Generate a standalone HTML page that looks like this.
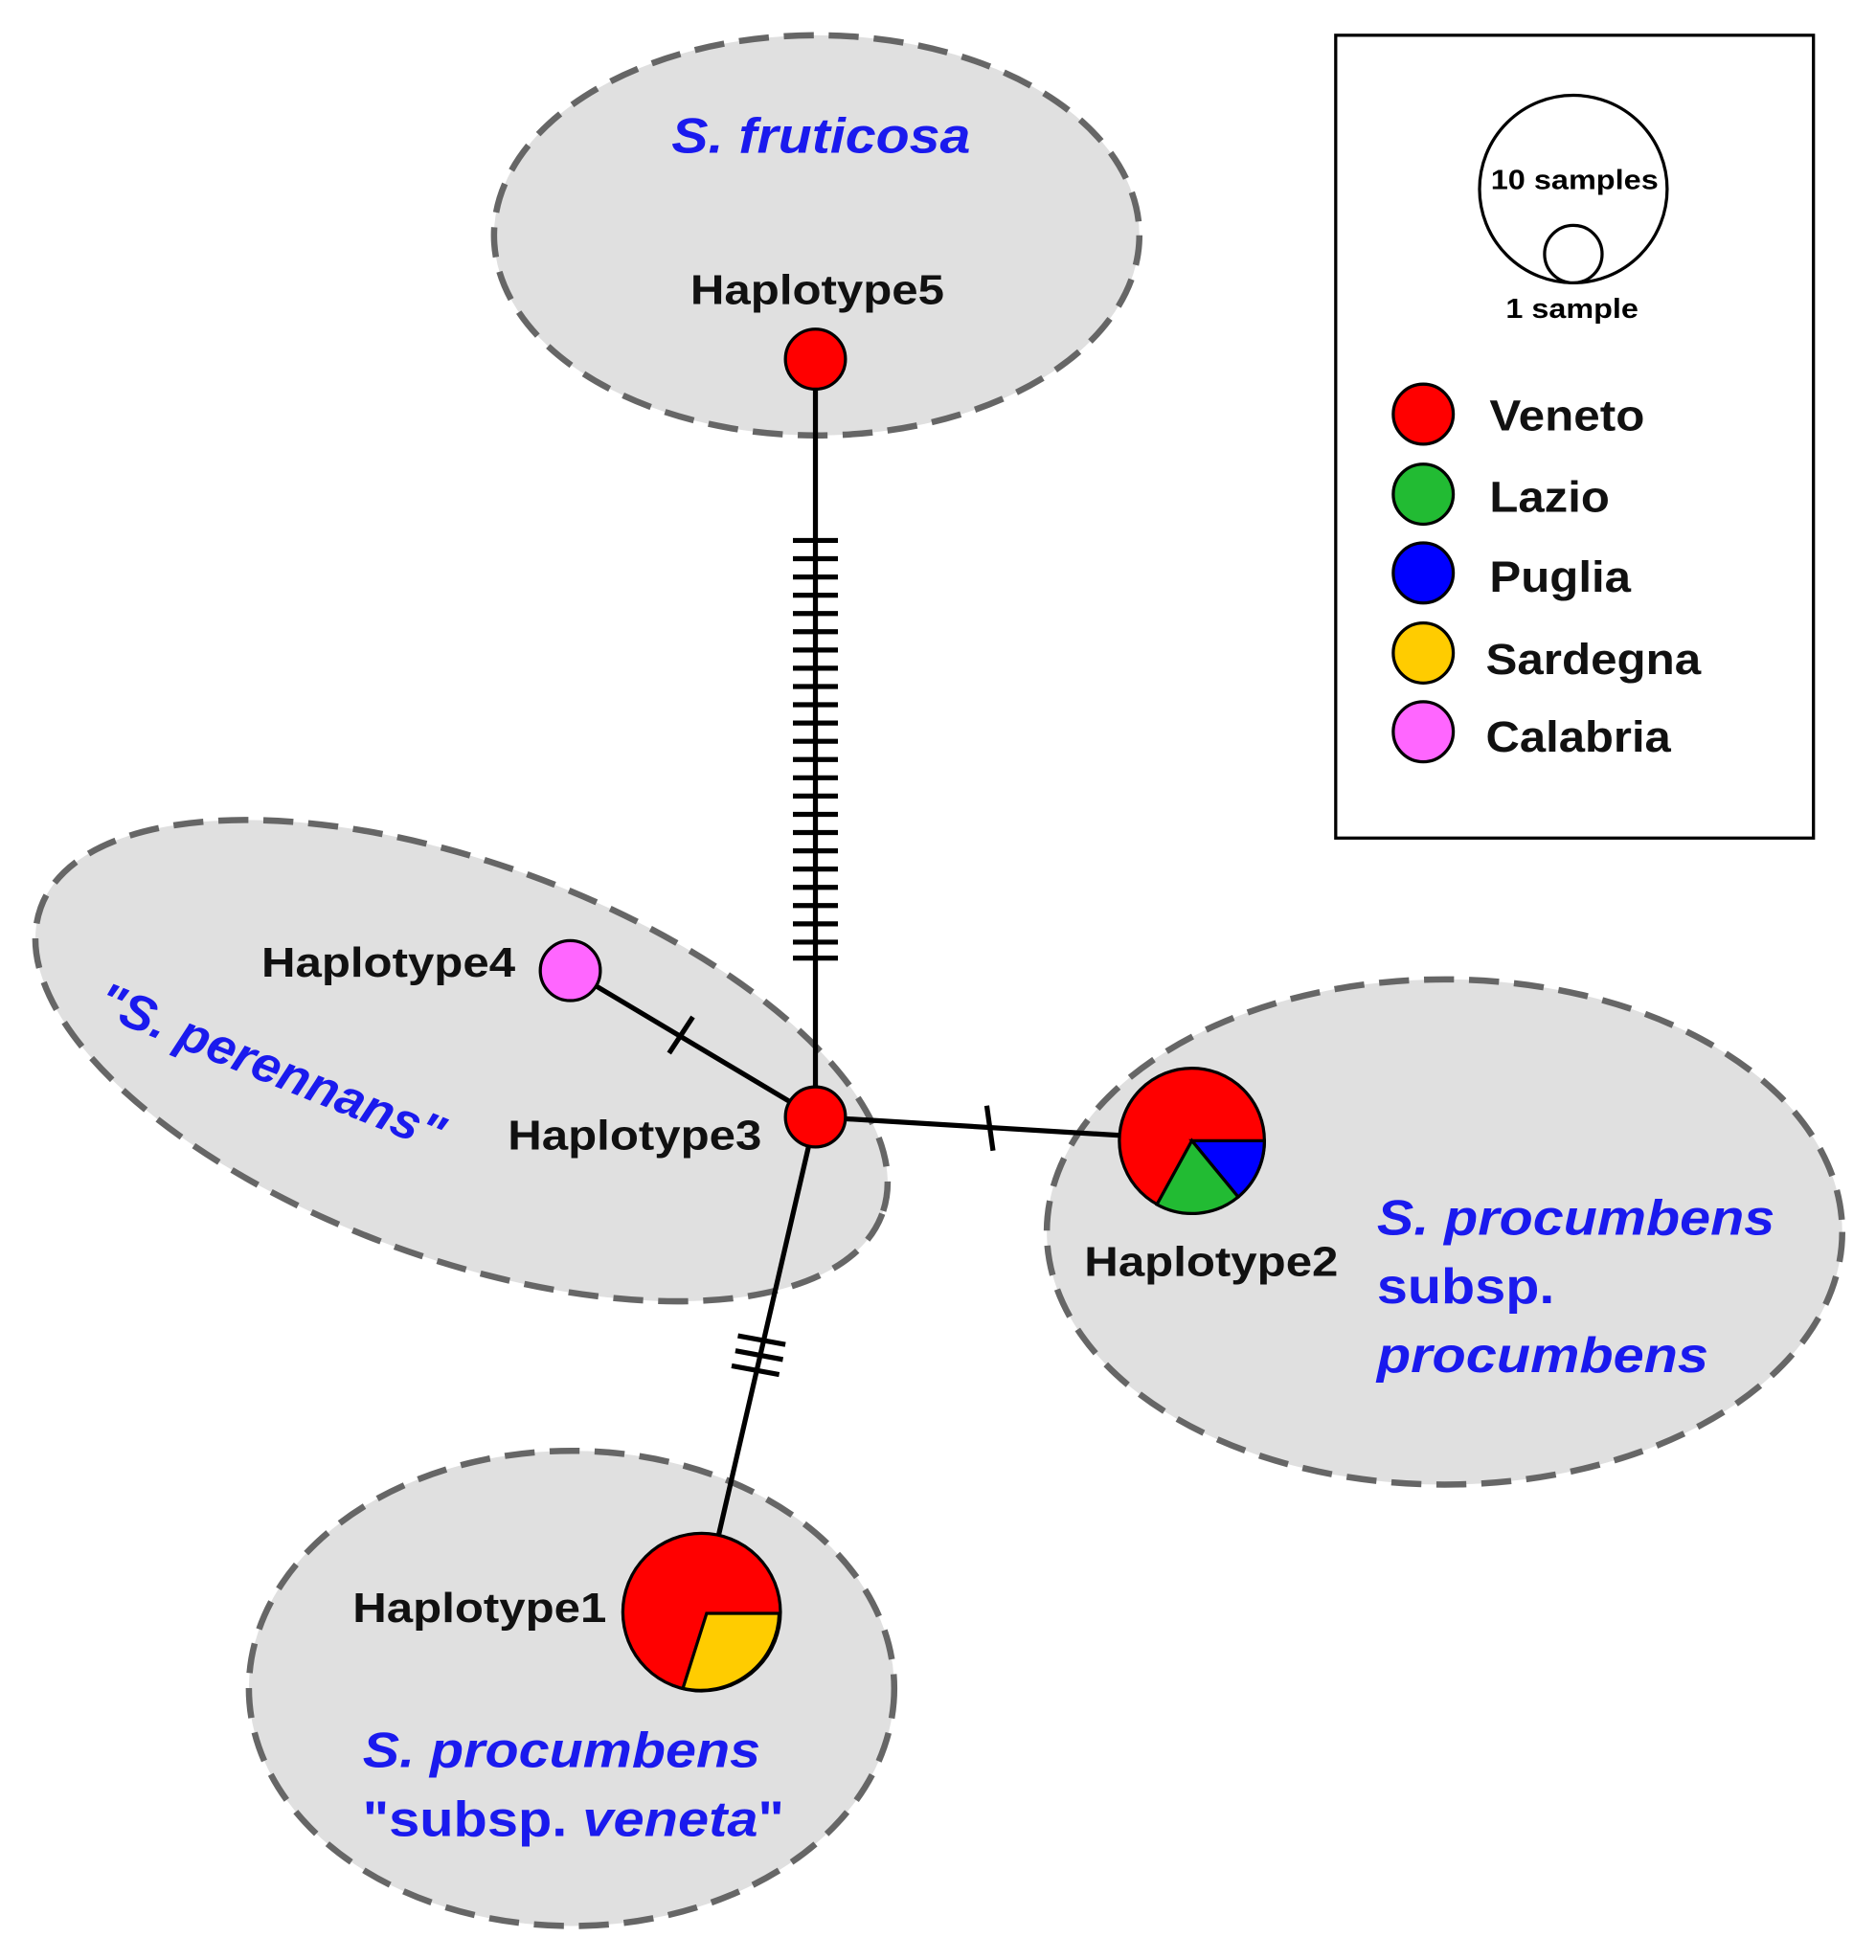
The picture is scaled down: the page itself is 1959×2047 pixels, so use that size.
<!DOCTYPE html>
<html><head><meta charset="utf-8">
<style>
html,body{margin:0;padding:0;background:#fff;}
svg{display:block;}
text{font-family:"Liberation Sans",Arial,sans-serif;font-weight:bold;}
</style></head>
<body>
<svg width="1959" height="2047" viewBox="0 0 1500 1567" xmlns="http://www.w3.org/2000/svg">
<g fill="#e0e0e0" stroke="#666" stroke-width="5" stroke-dasharray="24,12">
<ellipse cx="653" cy="188" rx="258" ry="160"/>
<ellipse cx="369" cy="848" rx="358" ry="158" transform="rotate(20 369 848)"/>
<ellipse cx="1155" cy="985" rx="318" ry="202"/>
<ellipse cx="457" cy="1350" rx="258" ry="190"/>
</g>
<g stroke="#000" stroke-width="4" fill="none">
<line x1="652" y1="287" x2="652" y2="893"/>
<line x1="456" y1="776" x2="652" y2="893"/>
<line x1="652" y1="893" x2="900" y2="908"/>
<line x1="652" y1="893" x2="574" y2="1230"/>
<line x1="535" y1="842" x2="554" y2="813"/>
<line x1="789" y1="884" x2="794" y2="920"/>
<line x1="590" y1="1068" x2="628" y2="1075"/>
<line x1="588" y1="1080" x2="626" y2="1087"/>
<line x1="585" y1="1092" x2="623" y2="1099"/>
</g>
<g stroke="#000" stroke-width="4">
<line x1="634" y1="432" x2="670" y2="432"/><line x1="634" y1="446.6" x2="670" y2="446.6"/><line x1="634" y1="461.2" x2="670" y2="461.2"/><line x1="634" y1="475.8" x2="670" y2="475.8"/><line x1="634" y1="490.4" x2="670" y2="490.4"/><line x1="634" y1="505" x2="670" y2="505"/><line x1="634" y1="519.6" x2="670" y2="519.6"/><line x1="634" y1="534.2" x2="670" y2="534.2"/><line x1="634" y1="548.8" x2="670" y2="548.8"/><line x1="634" y1="563.4" x2="670" y2="563.4"/><line x1="634" y1="578" x2="670" y2="578"/><line x1="634" y1="592.6" x2="670" y2="592.6"/><line x1="634" y1="607.2" x2="670" y2="607.2"/><line x1="634" y1="621.8" x2="670" y2="621.8"/><line x1="634" y1="636.4" x2="670" y2="636.4"/><line x1="634" y1="651" x2="670" y2="651"/><line x1="634" y1="665.6" x2="670" y2="665.6"/><line x1="634" y1="680.2" x2="670" y2="680.2"/><line x1="634" y1="694.8" x2="670" y2="694.8"/><line x1="634" y1="709.4" x2="670" y2="709.4"/><line x1="634" y1="724" x2="670" y2="724"/><line x1="634" y1="738.6" x2="670" y2="738.6"/><line x1="634" y1="753.2" x2="670" y2="753.2"/><line x1="634" y1="766" x2="670" y2="766"/>
</g>
<g stroke="#000" stroke-width="2.5">
<circle cx="652" cy="287" r="24" fill="#ff0000"/>
<circle cx="456" cy="776" r="24" fill="#ff66ff"/>
<circle cx="652" cy="893" r="24" fill="#ff0000"/>
<circle cx="953" cy="912" r="58" fill="#ff0000"/>
<path d="M953,912 L1011,912 A58,58 0 0 1 990,957 Z" fill="#0000ff"/>
<path d="M953,912 L990,957 A58,58 0 0 1 925,963 Z" fill="#22bb33"/>
<circle cx="561" cy="1289" r="63" fill="#ff0000"/>
<path d="M565,1290 L623,1290 A63,63 0 0 1 546,1350 Z" fill="#ffcc00"/>
</g>
<g font-size="33" fill="#111">
<text x="552" y="243" textLength="203" lengthAdjust="spacingAndGlyphs">Haplotype5</text>
<text x="209" y="781" textLength="203" lengthAdjust="spacingAndGlyphs">Haplotype4</text>
<text x="406" y="919" textLength="203" lengthAdjust="spacingAndGlyphs">Haplotype3</text>
<text x="867" y="1020" textLength="203" lengthAdjust="spacingAndGlyphs">Haplotype2</text>
<text x="282" y="1297" textLength="203" lengthAdjust="spacingAndGlyphs">Haplotype1</text>
</g>
<g font-size="40" fill="#1a1aee">
<text x="537" y="122" font-style="italic" textLength="239" lengthAdjust="spacingAndGlyphs">S. fruticosa</text>
<text x="75" y="810" font-style="italic" transform="rotate(22 75 810)" textLength="295" lengthAdjust="spacingAndGlyphs">"S. perennans"</text>
<text x="1101" y="987" font-style="italic" textLength="318" lengthAdjust="spacingAndGlyphs">S. procumbens</text>
<text x="1101" y="1042" textLength="142" lengthAdjust="spacingAndGlyphs">subsp.</text>
<text x="1101" y="1097" font-style="italic" textLength="265" lengthAdjust="spacingAndGlyphs">procumbens</text>
<text x="290" y="1413" font-style="italic" textLength="318" lengthAdjust="spacingAndGlyphs">S. procumbens</text>
<text x="290" y="1468" textLength="337" lengthAdjust="spacingAndGlyphs">"subsp. <tspan font-style="italic">veneta</tspan>"</text>
</g>
<rect x="1068" y="28" width="382" height="642" fill="#fff" stroke="#000" stroke-width="2.5"/>
<circle cx="1258" cy="151" r="75" fill="#fff" stroke="#000" stroke-width="2.5"/>
<circle cx="1258" cy="203" r="23" fill="#fff" stroke="#000" stroke-width="2.5"/>
<text x="1192" y="151" font-size="22" fill="#000" textLength="134" lengthAdjust="spacingAndGlyphs">10 samples</text>
<text x="1204" y="254" font-size="22" fill="#000" textLength="106" lengthAdjust="spacingAndGlyphs">1 sample</text>
<g stroke="#000" stroke-width="2.5">
<circle cx="1138" cy="331" r="24" fill="#ff0000"/>
<circle cx="1138" cy="395" r="24" fill="#22bb33"/>
<circle cx="1138" cy="458" r="24" fill="#0000ff"/>
<circle cx="1138" cy="522" r="24" fill="#ffcc00"/>
<circle cx="1138" cy="585" r="24" fill="#ff66ff"/>
</g>
<g font-size="35" fill="#111">
<text x="1191" y="344" textLength="124" lengthAdjust="spacingAndGlyphs">Veneto</text>
<text x="1191" y="409" textLength="96" lengthAdjust="spacingAndGlyphs">Lazio</text>
<text x="1191" y="473" textLength="113" lengthAdjust="spacingAndGlyphs">Puglia</text>
<text x="1188" y="539" textLength="172" lengthAdjust="spacingAndGlyphs">Sardegna</text>
<text x="1188" y="601" textLength="148" lengthAdjust="spacingAndGlyphs">Calabria</text>
</g>
</svg>
</body></html>
